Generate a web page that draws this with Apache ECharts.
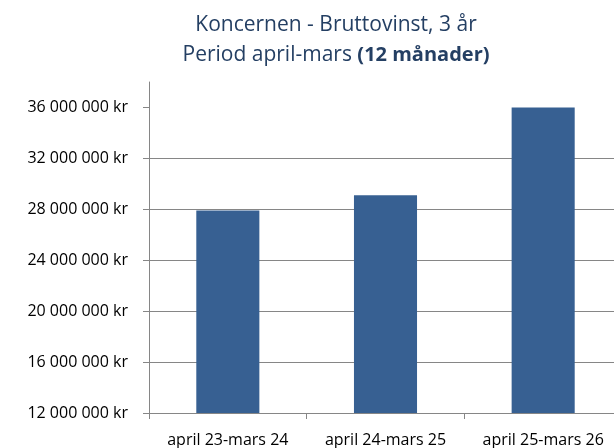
<!DOCTYPE html>
<html>
<head>
<meta charset="utf-8">
<script src="https://cdn.jsdelivr.net/npm/echarts@6/dist/echarts.min.js"></script>
<style>
html,body{margin:0;padding:0;background:#fff;width:614px;height:448px;overflow:hidden;}
#chart{width:622px;height:448px;}
</style>
</head>
<body>
<div id="chart"></div>
<script>
// Data
const categories = ['april 23-mars 24', 'april 24-mars 25', 'april 25-mars 26'];
const grossProfit = [27900000, 29100000, 36000000];
const yTicks = [12000000, 16000000, 20000000, 24000000, 28000000, 32000000, 36000000];
const titleLine1 = 'Koncernen - Bruttovinst, 3 år';
const titleLine2a = 'Period april-mars ';
const titleLine2b = '(12 månader)';

function fmtKr(v) {
  return String(v).replace(/\B(?=(\d{3})+(?!\d))/g, ' ') + ' kr';
}

const FONT = 'Open Sans';
const chart = echarts.init(document.getElementById('chart'), null, { renderer: 'canvas' });
chart.setOption({
  backgroundColor: '#ffffff',
  animation: false,
  title: {
    text: '{n|' + titleLine1 + '}\n{n|' + titleLine2a + '}{b|' + titleLine2b + '}',
    left: 331,
    textAlign: 'center',
    top: 5,
    textStyle: {
      fontWeight: 'normal',
      rich: {
        n: { fontFamily: FONT, fontSize: 21, fontWeight: 'normal', color: '#243f63', lineHeight: 30 },
        b: { fontFamily: FONT, fontSize: 20, fontWeight: 'bold', color: '#243f63', lineHeight: 30 }
      }
    }
  },
  grid: { left: 149, right: 0, top: 82, bottom: 33, containLabel: false },
  xAxis: {
    type: 'category',
    data: categories,
    axisLine: { show: true, lineStyle: { color: '#868686', width: 1 } },
    axisTick: { show: true, length: 6, alignWithLabel: false, lineStyle: { color: '#868686' } },
    axisLabel: { interval: 0, fontFamily: FONT, fontSize: 16, color: '#000', margin: 19 },
    splitLine: { show: false }
  },
  yAxis: {
    type: 'value',
    min: 12000000,
    max: 38000000,
    interval: 4000000,
    axisLine: { show: true, lineStyle: { color: '#868686', width: 1 } },
    axisTick: { show: true, length: 6, customValues: yTicks, lineStyle: { color: '#868686' } },
    axisLabel: {
      customValues: yTicks,
      fontFamily: FONT, fontSize: 16, color: '#000', margin: 21,
      formatter: fmtKr
    },
    splitLine: { show: true, showMaxLine: false, lineStyle: { color: '#868686', width: 1 } }
  },
  series: [{
    type: 'bar',
    data: grossProfit,
    barWidth: '40%',
    itemStyle: { color: '#376092' }
  }]
});
</script>
</body>
</html>
